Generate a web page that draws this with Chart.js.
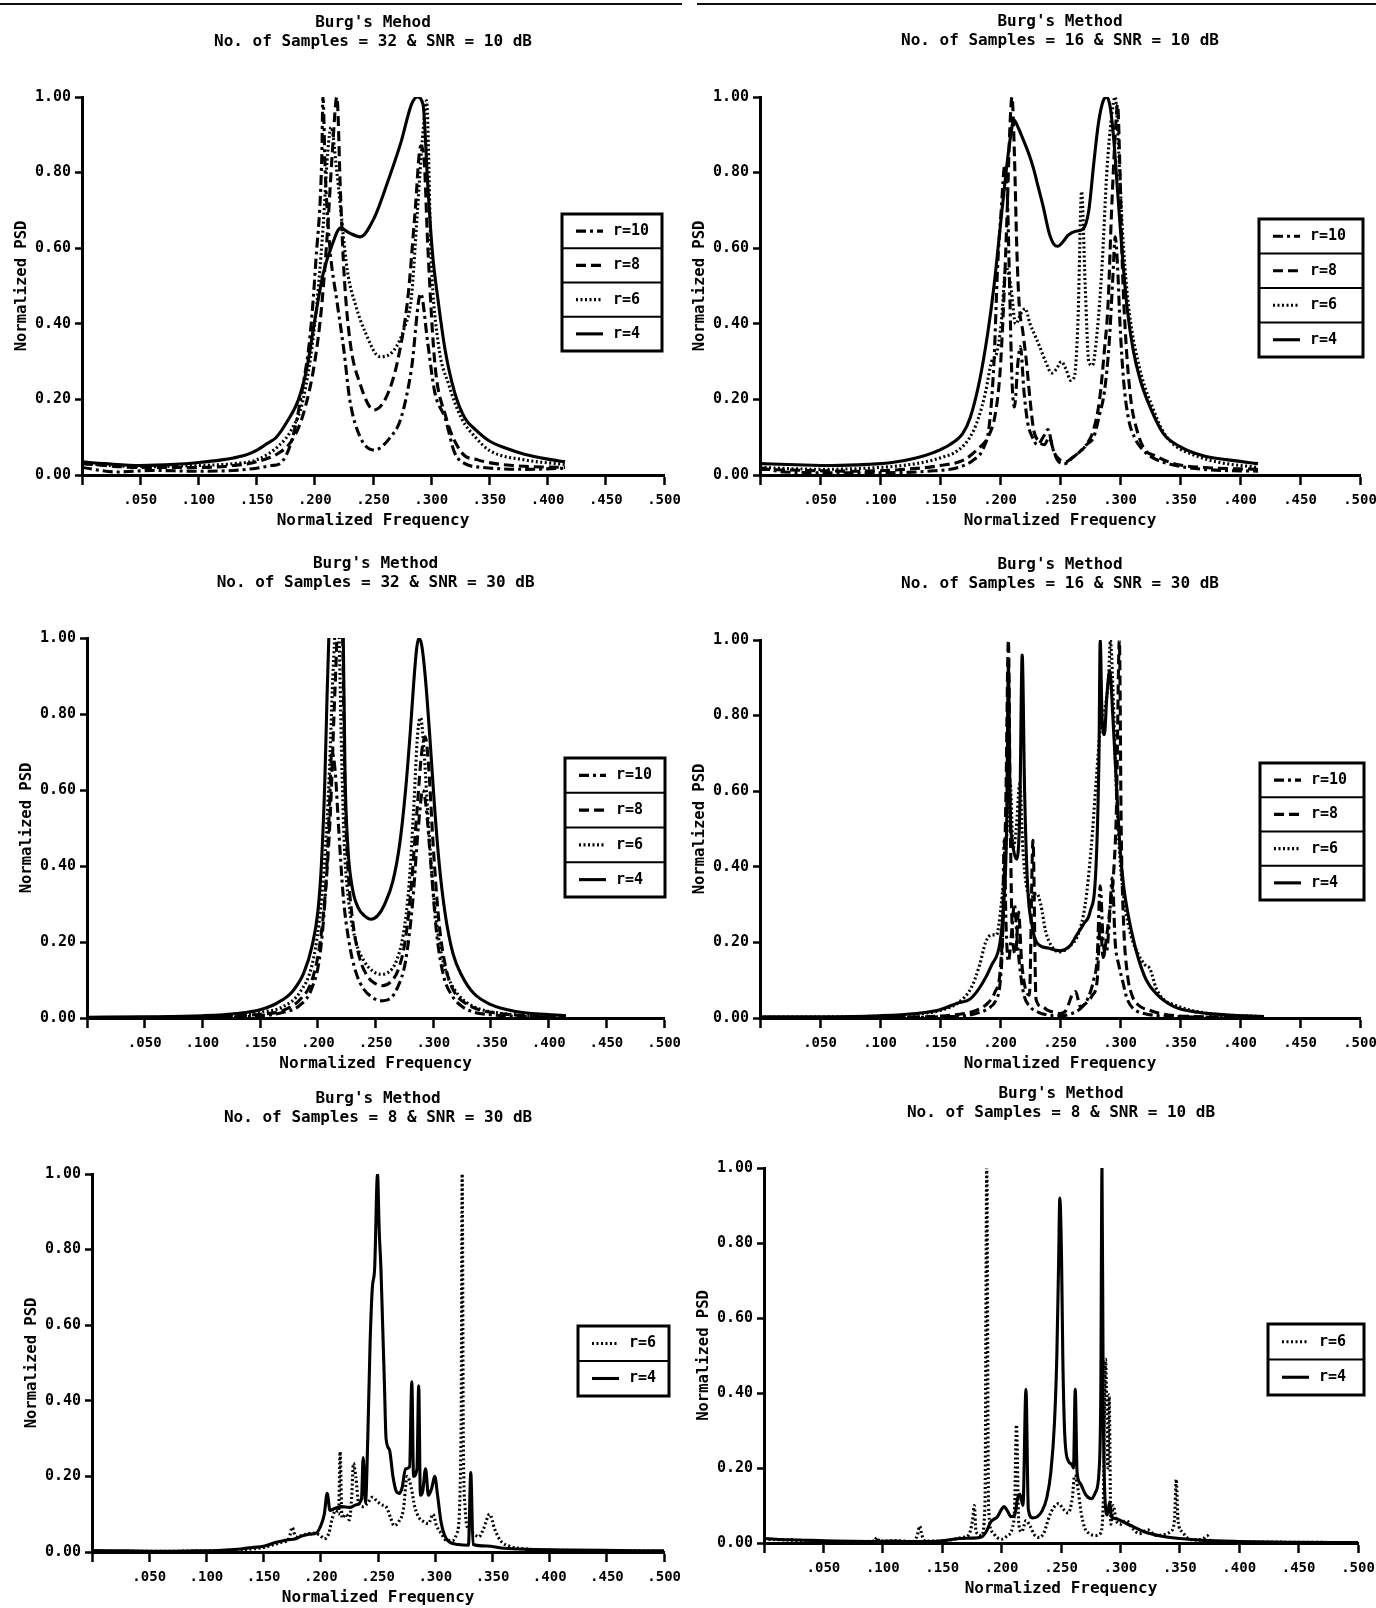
<!DOCTYPE html>
<html>
<head>
<meta charset="utf-8">
<title>Burg's Method - Normalized PSD</title>
<script src="https://cdn.jsdelivr.net/npm/chart.js@4.4.1/dist/chart.umd.min.js"></script>
<style>
  html, body { margin: 0; padding: 0; background: #fff; }
  #page { position: relative; width: 1376px; height: 1608px; overflow: hidden; background: #fff; }
  .panel { position: absolute; }
  .rule { position: absolute; top: 3px; height: 2px; background: #111; }
</style>
</head>
<body>
<div id="page">
  <div class="rule" style="left:0;width:682px"></div>
  <div class="rule" style="left:697px;width:679px"></div>
</div>
<script>
// ---- spectra: [normalized frequency, normalized PSD] ----

// 32 samples, SNR 10 dB
const p1R10 = [[0,0.02],[0.03,0.008],[0.06,0.012],[0.1,0.01],[0.13,0.012],[0.15,0.018],[0.163,0.025],[0.17,0.03],[0.181,0.1],[0.19,0.24],[0.196,0.37],[0.201,0.57],[0.206,0.84],[0.207,1.0],[0.209,0.8],[0.213,0.6],[0.219,0.46],[0.225,0.33],[0.23,0.2],[0.239,0.1],[0.251,0.066],[0.265,0.1],[0.274,0.15],[0.283,0.28],[0.291,0.48],[0.297,0.35],[0.303,0.22],[0.312,0.15],[0.32,0.06],[0.329,0.03],[0.345,0.02],[0.38,0.015],[0.415,0.018]];
const p1R8 = [[0,0.03],[0.05,0.02],[0.1,0.02],[0.13,0.025],[0.15,0.035],[0.17,0.06],[0.18,0.09],[0.19,0.16],[0.2,0.3],[0.206,0.45],[0.211,0.65],[0.215,0.85],[0.219,1.0],[0.222,0.75],[0.225,0.54],[0.23,0.36],[0.239,0.24],[0.251,0.172],[0.262,0.21],[0.271,0.3],[0.28,0.47],[0.286,0.69],[0.291,0.87],[0.294,0.83],[0.297,0.61],[0.303,0.3],[0.312,0.16],[0.326,0.06],[0.34,0.04],[0.37,0.025],[0.415,0.02]];
const p1R6 = [[0,0.03],[0.05,0.022],[0.1,0.025],[0.13,0.03],[0.15,0.04],[0.17,0.08],[0.18,0.12],[0.19,0.2],[0.2,0.4],[0.207,0.65],[0.211,0.85],[0.214,0.92],[0.219,0.8],[0.228,0.54],[0.235,0.45],[0.243,0.38],[0.256,0.313],[0.268,0.33],[0.277,0.39],[0.283,0.47],[0.288,0.69],[0.293,0.91],[0.296,0.99],[0.3,0.57],[0.306,0.35],[0.315,0.24],[0.326,0.15],[0.338,0.1],[0.35,0.065],[0.38,0.04],[0.415,0.028]];
const p1R4 = [[0,0.035],[0.02,0.03],[0.05,0.025],[0.08,0.028],[0.1,0.033],[0.12,0.04],[0.13,0.045],[0.14,0.052],[0.15,0.065],[0.16,0.085],[0.167,0.1],[0.176,0.14],[0.186,0.2],[0.193,0.28],[0.2,0.41],[0.207,0.53],[0.215,0.61],[0.222,0.653],[0.23,0.64],[0.239,0.63],[0.251,0.68],[0.262,0.77],[0.274,0.88],[0.283,0.98],[0.288,1.0],[0.293,0.98],[0.297,0.77],[0.301,0.59],[0.306,0.46],[0.312,0.33],[0.32,0.22],[0.329,0.15],[0.338,0.12],[0.35,0.09],[0.365,0.07],[0.38,0.055],[0.4,0.042],[0.415,0.035]];

// 16 samples, SNR 10 dB
const p2R10 = [[0,0.02],[0.02,0.008],[0.06,0.006],[0.1,0.006],[0.14,0.01],[0.165,0.02],[0.178,0.04],[0.186,0.07],[0.191,0.13],[0.195,0.3],[0.198,0.55],[0.201,0.7],[0.204,0.82],[0.206,0.75],[0.208,0.5],[0.21,0.25],[0.212,0.18],[0.215,0.3],[0.217,0.34],[0.22,0.22],[0.223,0.14],[0.227,0.1],[0.231,0.08],[0.236,0.1],[0.24,0.12],[0.244,0.07],[0.249,0.035],[0.254,0.03],[0.26,0.045],[0.266,0.06],[0.272,0.08],[0.278,0.1],[0.283,0.16],[0.287,0.22],[0.291,0.35],[0.294,0.52],[0.296,0.63],[0.298,0.55],[0.3,0.4],[0.303,0.25],[0.307,0.15],[0.312,0.1],[0.318,0.07],[0.325,0.05],[0.34,0.03],[0.37,0.015],[0.415,0.01]];
const p2R8 = [[0,0.015],[0.04,0.012],[0.08,0.01],[0.12,0.015],[0.15,0.025],[0.17,0.04],[0.182,0.07],[0.19,0.1],[0.196,0.16],[0.2,0.27],[0.203,0.45],[0.206,0.7],[0.208,0.9],[0.21,1.0],[0.212,0.85],[0.214,0.6],[0.216,0.45],[0.219,0.38],[0.222,0.3],[0.225,0.2],[0.228,0.12],[0.232,0.09],[0.237,0.08],[0.241,0.1],[0.245,0.06],[0.25,0.04],[0.255,0.035],[0.26,0.045],[0.266,0.06],[0.272,0.08],[0.278,0.12],[0.283,0.2],[0.287,0.33],[0.29,0.45],[0.293,0.7],[0.296,0.9],[0.298,0.98],[0.3,0.8],[0.302,0.55],[0.305,0.35],[0.309,0.2],[0.314,0.12],[0.32,0.07],[0.33,0.05],[0.345,0.03],[0.37,0.02],[0.415,0.015]];
const p2R6 = [[0,0.02],[0.05,0.015],[0.1,0.02],[0.13,0.03],[0.15,0.045],[0.165,0.065],[0.175,0.1],[0.182,0.15],[0.188,0.22],[0.193,0.3],[0.197,0.32],[0.201,0.4],[0.205,0.55],[0.209,0.5],[0.213,0.4],[0.218,0.43],[0.221,0.44],[0.225,0.4],[0.229,0.37],[0.233,0.34],[0.238,0.3],[0.243,0.27],[0.247,0.28],[0.251,0.3],[0.255,0.28],[0.259,0.25],[0.262,0.26],[0.265,0.41],[0.268,0.75],[0.271,0.5],[0.274,0.3],[0.277,0.29],[0.281,0.38],[0.285,0.55],[0.289,0.8],[0.293,0.95],[0.296,1.0],[0.299,0.85],[0.302,0.65],[0.306,0.48],[0.31,0.38],[0.315,0.3],[0.32,0.24],[0.327,0.18],[0.335,0.12],[0.345,0.08],[0.36,0.055],[0.38,0.035],[0.415,0.02]];
const p2R4 = [[0,0.03],[0.03,0.027],[0.06,0.025],[0.09,0.028],[0.11,0.033],[0.13,0.045],[0.145,0.06],[0.158,0.08],[0.169,0.11],[0.175,0.15],[0.183,0.25],[0.19,0.38],[0.195,0.5],[0.2,0.65],[0.205,0.8],[0.209,0.9],[0.2115,0.94],[0.215,0.92],[0.219,0.89],[0.224,0.85],[0.228,0.81],[0.232,0.76],[0.236,0.71],[0.241,0.64],[0.245,0.61],[0.248,0.605],[0.252,0.615],[0.257,0.635],[0.263,0.645],[0.269,0.65],[0.274,0.7],[0.278,0.82],[0.282,0.93],[0.286,0.99],[0.289,1.0],[0.292,0.97],[0.295,0.88],[0.298,0.75],[0.302,0.58],[0.306,0.44],[0.311,0.33],[0.317,0.25],[0.325,0.18],[0.336,0.11],[0.35,0.075],[0.37,0.05],[0.39,0.04],[0.415,0.03]];

// 32 samples, SNR 30 dB
const p3R10 = [[0,0.001],[0.1,0.002],[0.15,0.006],[0.17,0.015],[0.185,0.035],[0.195,0.08],[0.202,0.17],[0.207,0.35],[0.21,0.55],[0.212,0.7],[0.215,0.65],[0.218,0.5],[0.222,0.32],[0.227,0.2],[0.233,0.12],[0.24,0.075],[0.247,0.055],[0.254,0.045],[0.262,0.05],[0.269,0.08],[0.276,0.15],[0.282,0.3],[0.287,0.5],[0.291,0.6],[0.294,0.55],[0.298,0.4],[0.303,0.22],[0.309,0.11],[0.316,0.06],[0.325,0.03],[0.345,0.01],[0.415,0.002]];
const p3R8 = [[0,0.001],[0.1,0.003],[0.15,0.01],[0.17,0.02],[0.185,0.05],[0.195,0.1],[0.202,0.2],[0.207,0.35],[0.211,0.55],[0.214,0.8],[0.2165,1.0],[0.219,1.3],[0.2215,1.0],[0.2235,0.6],[0.226,0.4],[0.23,0.26],[0.236,0.16],[0.243,0.11],[0.25,0.09],[0.256,0.085],[0.263,0.095],[0.27,0.13],[0.276,0.21],[0.281,0.35],[0.286,0.55],[0.29,0.7],[0.293,0.74],[0.296,0.66],[0.3,0.45],[0.305,0.25],[0.311,0.13],[0.318,0.07],[0.33,0.035],[0.35,0.015],[0.415,0.003]];
const p3R6 = [[0,0.001],[0.1,0.004],[0.15,0.015],[0.17,0.03],[0.185,0.07],[0.195,0.14],[0.201,0.25],[0.206,0.42],[0.21,0.65],[0.213,0.9],[0.2145,1.0],[0.2165,1.2],[0.2185,1.0],[0.2205,0.7],[0.223,0.45],[0.227,0.3],[0.233,0.2],[0.24,0.15],[0.247,0.125],[0.254,0.115],[0.261,0.12],[0.268,0.15],[0.274,0.22],[0.279,0.35],[0.283,0.55],[0.2865,0.75],[0.289,0.79],[0.292,0.7],[0.296,0.5],[0.301,0.3],[0.307,0.17],[0.314,0.1],[0.322,0.06],[0.335,0.03],[0.36,0.012],[0.415,0.004]];
const p3R4 = [[0,0.002],[0.05,0.003],[0.1,0.006],[0.13,0.012],[0.15,0.022],[0.165,0.04],[0.178,0.07],[0.188,0.12],[0.195,0.19],[0.2,0.28],[0.203,0.4],[0.206,0.62],[0.208,0.85],[0.2095,1.0],[0.2155,1.6],[0.222,1.0],[0.2235,0.65],[0.226,0.45],[0.23,0.34],[0.235,0.29],[0.24,0.27],[0.246,0.26],[0.252,0.27],[0.258,0.3],[0.265,0.36],[0.271,0.46],[0.276,0.6],[0.28,0.75],[0.283,0.88],[0.2855,0.97],[0.2875,1.0],[0.29,0.98],[0.293,0.9],[0.297,0.74],[0.301,0.56],[0.305,0.41],[0.31,0.28],[0.317,0.17],[0.325,0.11],[0.335,0.065],[0.35,0.035],[0.37,0.018],[0.4,0.009],[0.415,0.006]];

// 16 samples, SNR 30 dB
const p4R10 = [[0,0.001],[0.1,0.001],[0.15,0.003],[0.17,0.006],[0.18,0.012],[0.19,0.025],[0.197,0.05],[0.2,0.09],[0.202,0.2],[0.2035,0.47],[0.205,0.25],[0.207,0.15],[0.2095,0.22],[0.212,0.3],[0.2145,0.2],[0.217,0.12],[0.22,0.06],[0.225,0.03],[0.232,0.015],[0.24,0.008],[0.25,0.006],[0.26,0.012],[0.267,0.025],[0.273,0.05],[0.278,0.1],[0.281,0.16],[0.2835,0.35],[0.286,0.2],[0.2885,0.17],[0.291,0.25],[0.2935,0.37],[0.296,0.2],[0.299,0.14],[0.302,0.1],[0.306,0.05],[0.311,0.025],[0.32,0.012],[0.34,0.005],[0.42,0.001]];
const p4R8 = [[0,0.001],[0.1,0.002],[0.15,0.005],[0.17,0.012],[0.18,0.02],[0.19,0.04],[0.196,0.07],[0.2,0.12],[0.203,0.3],[0.205,0.6],[0.207,1.0],[0.2085,0.55],[0.21,0.25],[0.213,0.17],[0.2155,0.28],[0.218,0.15],[0.221,0.08],[0.2245,0.06],[0.2275,0.47],[0.23,0.05],[0.235,0.03],[0.24,0.02],[0.245,0.015],[0.25,0.012],[0.255,0.02],[0.26,0.06],[0.263,0.07],[0.267,0.03],[0.272,0.04],[0.277,0.06],[0.281,0.1],[0.2835,0.25],[0.286,0.16],[0.289,0.22],[0.292,0.3],[0.295,0.4],[0.297,0.55],[0.2995,1.0],[0.301,0.5],[0.303,0.25],[0.306,0.12],[0.31,0.06],[0.315,0.035],[0.325,0.02],[0.34,0.008],[0.38,0.003],[0.42,0.001]];
const p4R6 = [[0,0.002],[0.1,0.005],[0.13,0.01],[0.15,0.02],[0.165,0.04],[0.176,0.08],[0.183,0.14],[0.188,0.2],[0.193,0.22],[0.197,0.22],[0.201,0.3],[0.205,0.45],[0.2085,0.62],[0.211,0.45],[0.2135,0.5],[0.2165,0.62],[0.219,0.45],[0.222,0.35],[0.226,0.32],[0.2305,0.33],[0.234,0.3],[0.238,0.23],[0.243,0.19],[0.25,0.175],[0.258,0.19],[0.265,0.22],[0.271,0.3],[0.276,0.45],[0.28,0.62],[0.284,0.78],[0.2875,0.82],[0.2905,0.9],[0.292,1.0],[0.294,0.88],[0.297,0.6],[0.3,0.42],[0.304,0.3],[0.309,0.22],[0.315,0.17],[0.321,0.14],[0.325,0.13],[0.33,0.08],[0.336,0.05],[0.345,0.035],[0.36,0.02],[0.38,0.01],[0.42,0.004]];
const p4R4 = [[0,0.003],[0.05,0.003],[0.1,0.006],[0.13,0.012],[0.15,0.022],[0.165,0.04],[0.175,0.05],[0.185,0.09],[0.193,0.14],[0.2,0.2],[0.203,0.3],[0.2055,0.5],[0.207,0.93],[0.2085,0.55],[0.211,0.45],[0.214,0.42],[0.2165,0.55],[0.2185,0.96],[0.2205,0.6],[0.223,0.35],[0.227,0.24],[0.2305,0.2],[0.24,0.185],[0.25,0.178],[0.258,0.19],[0.264,0.22],[0.27,0.25],[0.275,0.28],[0.28,0.4],[0.2825,0.7],[0.2835,1.0],[0.285,0.8],[0.287,0.75],[0.289,0.85],[0.2915,0.92],[0.294,0.8],[0.297,0.62],[0.3,0.45],[0.303,0.35],[0.307,0.27],[0.311,0.21],[0.316,0.15],[0.322,0.1],[0.33,0.065],[0.345,0.03],[0.365,0.015],[0.39,0.008],[0.42,0.004]];

// 8 samples, SNR 30 dB
const p5R6 = [[0,0.002],[0.05,0.002],[0.1,0.003],[0.13,0.006],[0.15,0.012],[0.165,0.025],[0.172,0.035],[0.175,0.065],[0.178,0.04],[0.185,0.045],[0.192,0.05],[0.199,0.045],[0.203,0.035],[0.207,0.05],[0.21,0.09],[0.213,0.11],[0.2155,0.1],[0.2168,0.265],[0.2185,0.09],[0.222,0.1],[0.225,0.085],[0.227,0.15],[0.2285,0.235],[0.2305,0.2],[0.233,0.13],[0.237,0.12],[0.241,0.13],[0.245,0.145],[0.249,0.135],[0.253,0.125],[0.257,0.12],[0.261,0.09],[0.264,0.07],[0.268,0.08],[0.272,0.11],[0.2755,0.2],[0.279,0.17],[0.282,0.12],[0.286,0.09],[0.29,0.08],[0.294,0.075],[0.298,0.1],[0.301,0.07],[0.305,0.05],[0.31,0.03],[0.315,0.03],[0.319,0.05],[0.3225,0.3],[0.3235,1.0],[0.3245,0.3],[0.326,0.12],[0.329,0.06],[0.333,0.05],[0.338,0.04],[0.342,0.06],[0.3475,0.1],[0.352,0.06],[0.357,0.03],[0.365,0.015],[0.38,0.008],[0.42,0.004],[0.5,0.002]];
const p5R4 = [[0,0.004],[0.03,0.003],[0.06,0.002],[0.09,0.003],[0.11,0.004],[0.13,0.008],[0.14,0.012],[0.15,0.015],[0.16,0.025],[0.17,0.032],[0.178,0.035],[0.183,0.042],[0.19,0.047],[0.196,0.05],[0.2,0.07],[0.203,0.1],[0.2055,0.155],[0.208,0.11],[0.212,0.115],[0.218,0.12],[0.225,0.118],[0.231,0.125],[0.2355,0.14],[0.237,0.25],[0.239,0.13],[0.241,0.3],[0.243,0.55],[0.245,0.7],[0.247,0.75],[0.2495,1.0],[0.251,0.85],[0.2525,0.75],[0.254,0.6],[0.2555,0.45],[0.257,0.3],[0.26,0.27],[0.263,0.2],[0.266,0.16],[0.2685,0.155],[0.271,0.17],[0.274,0.22],[0.2775,0.225],[0.2795,0.45],[0.281,0.2],[0.284,0.22],[0.2855,0.44],[0.287,0.15],[0.289,0.16],[0.2915,0.22],[0.294,0.15],[0.297,0.17],[0.2995,0.2],[0.302,0.15],[0.305,0.08],[0.308,0.045],[0.312,0.027],[0.32,0.02],[0.329,0.018],[0.331,0.21],[0.333,0.02],[0.345,0.016],[0.36,0.01],[0.38,0.007],[0.42,0.005],[0.46,0.004],[0.5,0.003]];

// 8 samples, SNR 10 dB
const p6R6 = [[0,0.01],[0.02,0.008],[0.05,0.004],[0.08,0.004],[0.093,0.005],[0.095,0.015],[0.097,0.005],[0.11,0.006],[0.125,0.004],[0.129,0.02],[0.131,0.045],[0.133,0.02],[0.136,0.005],[0.15,0.005],[0.16,0.01],[0.167,0.015],[0.172,0.02],[0.1755,0.06],[0.177,0.1],[0.1785,0.03],[0.183,0.02],[0.186,0.1],[0.1875,1.0],[0.189,0.1],[0.192,0.03],[0.196,0.015],[0.2,0.01],[0.205,0.02],[0.209,0.04],[0.211,0.1],[0.2125,0.315],[0.2145,0.05],[0.217,0.03],[0.2205,0.06],[0.224,0.045],[0.228,0.02],[0.232,0.015],[0.236,0.03],[0.24,0.07],[0.244,0.095],[0.248,0.105],[0.252,0.09],[0.256,0.08],[0.2595,0.12],[0.2615,0.18],[0.264,0.15],[0.267,0.08],[0.27,0.04],[0.274,0.025],[0.279,0.02],[0.283,0.025],[0.2855,0.1],[0.2875,0.49],[0.2895,0.2],[0.2905,0.395],[0.292,0.05],[0.294,0.1],[0.2965,0.06],[0.3,0.05],[0.305,0.06],[0.31,0.04],[0.316,0.025],[0.323,0.035],[0.33,0.02],[0.336,0.022],[0.342,0.03],[0.3455,0.06],[0.347,0.17],[0.3485,0.06],[0.352,0.03],[0.358,0.01],[0.365,0.008],[0.37,0.012],[0.373,0.02],[0.376,0.005],[0.39,0.003],[0.45,0.002],[0.5,0.001]];
const p6R4 = [[0,0.012],[0.01,0.01],[0.03,0.008],[0.06,0.005],[0.09,0.004],[0.11,0.005],[0.12,0.004],[0.14,0.004],[0.155,0.008],[0.165,0.012],[0.175,0.013],[0.183,0.016],[0.187,0.03],[0.191,0.057],[0.1965,0.07],[0.2,0.09],[0.202,0.097],[0.205,0.085],[0.208,0.07],[0.211,0.075],[0.2135,0.12],[0.2155,0.13],[0.218,0.1],[0.2205,0.41],[0.2225,0.09],[0.226,0.067],[0.23,0.07],[0.234,0.085],[0.238,0.12],[0.2415,0.19],[0.2445,0.32],[0.2465,0.5],[0.248,0.75],[0.249,0.92],[0.2505,0.75],[0.2515,0.5],[0.253,0.3],[0.256,0.22],[0.259,0.21],[0.2605,0.2],[0.262,0.41],[0.2635,0.19],[0.266,0.16],[0.271,0.128],[0.2755,0.118],[0.279,0.135],[0.282,0.19],[0.2835,0.4],[0.2845,1.0],[0.2855,0.4],[0.287,0.12],[0.289,0.075],[0.291,0.11],[0.2925,0.07],[0.296,0.065],[0.3,0.06],[0.305,0.052],[0.31,0.045],[0.32,0.03],[0.335,0.018],[0.35,0.012],[0.37,0.007],[0.4,0.004],[0.44,0.002],[0.5,0.001]];

const orderLabels4 = ['r=10', 'r=8', 'r=6', 'r=4'];
const orderLabels2 = ['r=6', 'r=4'];

// ---- drawing ----
const FONT = '"DejaVu Sans Mono", "Liberation Mono", monospace';
const AXIS_H = 56;      // height reserved under each x axis
const TITLE_LH = 18.5;  // title line spacing
const LINE_W = 3.1;

const DASH = {
  'r=10': [10, 4, 3, 4],
  'r=8': [10, 5],
  'r=6': [2, 2.5],
  'r=4': []
};

// page coordinates of each plot
const PANELS = [
  { title: ["Burg's Mehod", 'No. of Samples = 32 & SNR = 10 dB'], series: [p1R10, p1R8, p1R6, p1R4], labels: orderLabels4,
    left: 0, top: 0, width: 688, area: { l: 82, r: 664, t: 97, b: 475 }, titleY: 23, legend: { x: 562, y: 214, w: 100, h: 137 } },
  { title: ["Burg's Method", 'No. of Samples = 16 & SNR = 10 dB'], series: [p2R10, p2R8, p2R6, p2R4], labels: orderLabels4,
    left: 688, top: 0, width: 700, area: { l: 760, r: 1360, t: 97, b: 475 }, titleY: 22, legend: { x: 1259, y: 219, w: 104, h: 138 } },
  { title: ["Burg's Method", 'No. of Samples = 32 & SNR = 30 dB'], series: [p3R10, p3R8, p3R6, p3R4], labels: orderLabels4,
    left: 0, top: 531, width: 688, area: { l: 87, r: 665, t: 638, b: 1018 }, titleY: 564, legend: { x: 565, y: 758, w: 100, h: 139 } },
  { title: ["Burg's Method", 'No. of Samples = 16 & SNR = 30 dB'], series: [p4R10, p4R8, p4R6, p4R4], labels: orderLabels4,
    left: 688, top: 531, width: 700, area: { l: 760, r: 1360, t: 640, b: 1018 }, titleY: 565, legend: { x: 1260, y: 763, w: 104, h: 137 } },
  { title: ["Burg's Method", 'No. of Samples = 8 & SNR = 30 dB'], series: [p5R6, p5R4], labels: orderLabels2,
    left: 0, top: 1074, width: 688, area: { l: 92, r: 667, t: 1174, b: 1552 }, titleY: 1099, legend: { x: 578, y: 1326, w: 91, h: 70 } },
  { title: ["Burg's Method", 'No. of Samples = 8 & SNR = 10 dB'], series: [p6R6, p6R4], labels: orderLabels2,
    left: 688, top: 1074, width: 700, area: { l: 764, r: 1358, t: 1168, b: 1543 }, titleY: 1094, legend: { x: 1268, y: 1324, w: 96, h: 71 } }
];

// boxed legend with one framed row per dataset
const boxLegend = {
  id: 'boxLegend',
  afterDraw(chart, args, opts) {
    const { ctx } = chart;
    const sets = chart.data.datasets;
    const rowH = opts.h / sets.length;
    ctx.save();
    ctx.fillStyle = '#fff';
    ctx.fillRect(opts.x, opts.y, opts.w, opts.h);
    ctx.strokeStyle = '#000';
    ctx.lineWidth = 3;
    ctx.strokeRect(opts.x, opts.y, opts.w, opts.h);
    sets.forEach((ds, i) => {
      const top = opts.y + i * rowH;
      if (i > 0) {
        ctx.setLineDash([]);
        ctx.lineWidth = 2;
        ctx.beginPath();
        ctx.moveTo(opts.x, top);
        ctx.lineTo(opts.x + opts.w, top);
        ctx.stroke();
      }
      const cy = top + rowH / 2;
      ctx.setLineDash(ds.borderDash || []);
      ctx.lineWidth = ds.borderWidth;
      ctx.beginPath();
      ctx.moveTo(opts.x + 14, cy);
      ctx.lineTo(opts.x + 41, cy);
      ctx.stroke();
      ctx.setLineDash([]);
      ctx.fillStyle = '#000';
      ctx.font = 'bold 15px ' + FONT;
      ctx.textAlign = 'left';
      ctx.textBaseline = 'middle';
      ctx.fillText(ds.label, opts.x + 51, cy);
    });
    ctx.restore();
  }
};

function buildPanel(p) {
  const page = document.getElementById('page');
  const height = p.area.b + AXIS_H - p.top;
  const wrap = document.createElement('div');
  wrap.className = 'panel';
  wrap.style.left = p.left + 'px';
  wrap.style.top = p.top + 'px';
  const canvas = document.createElement('canvas');
  canvas.width = p.width;
  canvas.height = height;
  canvas.style.width = p.width + 'px';
  canvas.style.height = height + 'px';
  wrap.appendChild(canvas);
  page.appendChild(wrap);

  const yAxisW = p.area.l - p.left;
  const padRight = p.left + p.width - p.area.r;
  const titleTop = p.titleY - p.top - TITLE_LH / 2;
  const titleBottom = (p.area.t - p.top) - titleTop - 2 * TITLE_LH;
  const yTitleX = yAxisW - 60;

  new Chart(canvas, {
    type: 'line',
    data: {
      datasets: p.series.map((s, i) => ({
        label: p.labels[i],
        data: s,
        borderColor: '#000',
        borderWidth: LINE_W,
        borderDash: DASH[p.labels[i]],
        borderCapStyle: 'butt',
        pointRadius: 0,
        cubicInterpolationMode: 'monotone',
        fill: false
      }))
    },
    options: {
      responsive: false,
      animation: false,
      events: [],
      layout: { padding: { left: 0, right: padRight, top: 0, bottom: 0 } },
      plugins: {
        legend: { display: false },
        tooltip: { enabled: false },
        title: {
          display: true,
          text: p.title,
          fullSize: false,
          color: '#000',
          font: { family: FONT, size: 16, weight: 'bold', lineHeight: TITLE_LH / 16 },
          padding: { top: titleTop, bottom: titleBottom }
        },
        boxLegend: { x: p.legend.x - p.left, y: p.legend.y - p.top, w: p.legend.w, h: p.legend.h }
      },
      scales: {
        x: {
          type: 'linear',
          min: 0,
          max: 0.5,
          afterFit(scale) { scale.height = AXIS_H; },
          border: { display: true, width: 3, color: '#000' },
          grid: { drawOnChartArea: false, drawTicks: true, tickLength: 10, tickWidth: 2.5, tickColor: '#000' },
          ticks: {
            stepSize: 0.05,
            autoSkip: false,
            maxRotation: 0,
            padding: 7,
            color: '#000',
            font: { family: FONT, size: 14, weight: 'bold' },
            callback: v => (Math.round(v * 1000) === 0 ? '' : '.' + String(Math.round(v * 1000)).padStart(3, '0'))
          },
          title: {
            display: true,
            text: 'Normalized Frequency',
            color: '#000',
            font: { family: FONT, size: 16, weight: 'bold', lineHeight: 1.2 },
            padding: { top: 0, bottom: AXIS_H - 46 - 9.6 }
          }
        },
        y: {
          type: 'linear',
          min: 0,
          max: 1,
          afterFit(scale) { scale.width = yAxisW; },
          border: { display: true, width: 3, color: '#000' },
          grid: { drawOnChartArea: false, drawTicks: true, tickLength: 7, tickWidth: 2.5, tickColor: '#000' },
          ticks: {
            stepSize: 0.2,
            padding: 4,
            color: '#000',
            font: { family: FONT, size: 15, weight: 'bold' },
            callback: v => v.toFixed(2)
          },
          title: {
            display: true,
            text: 'Normalized PSD',
            color: '#000',
            font: { family: FONT, size: 15.5, weight: 'bold', lineHeight: 1.2 },
            padding: { top: yTitleX - 9.3, bottom: 0 }
          }
        }
      }
    },
    plugins: [boxLegend]
  });
}

PANELS.forEach(buildPanel);
</script>
</body>
</html>
